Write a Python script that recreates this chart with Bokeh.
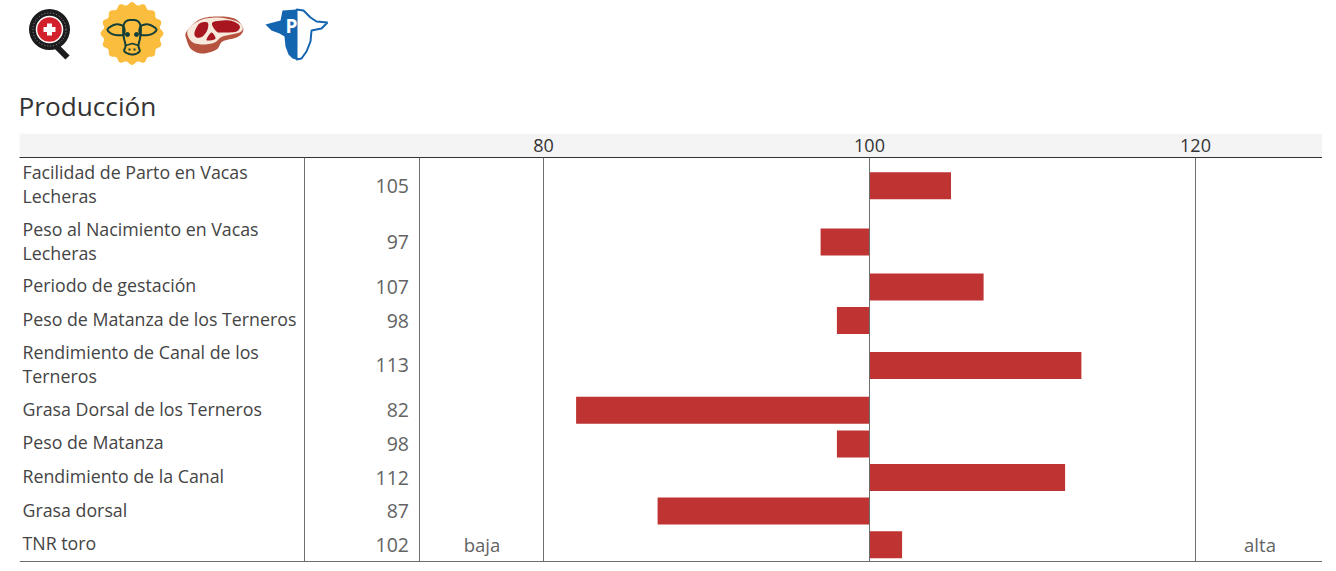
from bokeh.plotting import figure
from bokeh.layouts import column
from bokeh.embed import file_html
from bokeh.resources import INLINE
from bokeh.models import Range1d, LinearAxis, FixedTicker, Span, ColumnDataSource
from bokeh.core.properties import value
import numpy as np

# ---------- data ----------
labels = [
    "Facilidad de Parto en Vacas\nLecheras",
    "Peso al Nacimiento en Vacas\nLecheras",
    "Periodo de gestación",
    "Peso de Matanza de los Terneros",
    "Rendimiento de Canal de los\nTerneros",
    "Grasa Dorsal de los Terneros",
    "Peso de Matanza",
    "Rendimiento de la Canal",
    "Grasa dorsal",
    "TNR toro",
]
values = [105, 97, 107, 98, 113, 82, 98, 112, 87, 102]
axis_ticks = [80, 100, 120]
title_text = "Producción"
low_text, high_text = "baja", "alta"

# ---------- layout constants ----------
FONT = "Open Sans"
BAR = "#bf3333"
TXT = "#444444"
NUM = "#636363"
RULE = "#6e6e6e"
ORIGIN = 1
W, FRAME_H = 1303, 405
ROW1, ROW2 = 33.6, 56.2
PX_PER_UNIT = 16.3
X100 = 850  # px of value 100 inside the chart frame

heights = [ROW2 if "\n" in s else ROW1 for s in labels]
edges = np.concatenate([[0], np.cumsum(heights)])
centers = (edges[:-1] + edges[1:]) / 2 + 0.2


def smooth(points, n=8):
    """Closed Catmull-Rom curve through icon outline points."""
    pts = np.array(points, dtype=float)
    out = []
    m = len(pts)
    for i in range(m):
        p0, p1, p2, p3 = pts[i - 1], pts[i], pts[(i + 1) % m], pts[(i + 2) % m]
        for s in np.linspace(0, 1, n, endpoint=False):
            out.append(0.5 * (2 * p1 + (p2 - p0) * s + (2 * p0 - 5 * p1 + 4 * p2 - p3) * s ** 2
                              + (3 * p1 - p0 - 3 * p2 + p3) * s ** 3))
    out = np.array(out)
    return out[:, 0], out[:, 1]


# ---------- header (icons and title) ----------
top = figure(width=1330, height=134 - ORIGIN, x_range=Range1d(ORIGIN, 1330 + ORIGIN),
             y_range=Range1d(134, ORIGIN),
             output_backend="svg", toolbar_location=None, min_border=0,
             outline_line_color=None)
top.axis.visible = False
top.grid.visible = False

# Swiss Q badge
top.line([56, 68], [46, 58], line_width=6, color="#1c1c1e")
top.scatter([50], [30], size=41, color="#1c1c1e", line_color=None)
top.scatter([50], [30], size=33, fill_color=None, line_color="#9a9a9a", line_width=1, line_dash="1 2")
top.scatter([50], [30], size=26, color="#d2202c", line_color="#ffffff", line_width=1.5)
top.quad(left=[47.5, 44], right=[52.5, 56], top=[24, 27.5], bottom=[36, 32.5], color="#ffffff", line_color=None)

# golden cow badge
t = np.linspace(0, 2 * np.pi, 217)
r = 30 + 1.5 * np.cos(16 * t)
top.patch(132.5 + r * np.cos(t), 34 + r * np.sin(t), color="#fbbd3d", line_color=None)
cow = "#123f3a"
for outline in (
    [(124, 26), (128, 21), (137, 21), (141, 26), (141, 36), (139, 46), (140, 52), (133, 55), (125, 52), (126, 46), (124, 36)],
    [(124, 27), (116, 25), (108, 30), (114, 35), (124, 35)],
    [(141, 27), (149, 25), (157, 30), (151, 35), (141, 35)],
):
    xs, ys = smooth(outline)
    top.patch(xs, ys, fill_color=None, line_color=cow, line_width=2)
top.multi_line([[126, 133, 139], [129, 131], [136, 134]], [[46, 44, 46], [50, 50], [50, 50]],
               line_color=cow, line_width=1.8)
top.scatter([128, 137], [35, 35], size=4, color=cow)

# steak
xs, ys = smooth([(187, 32), (200, 20), (217, 17), (235, 19), (243, 27), (243, 33), (237, 38),
                 (223, 42), (217, 50), (203, 54), (192, 50), (187, 40)])
top.patch(xs, ys, color="#b5533f", line_color=None)
xs, ys = smooth([(188, 31), (200, 21), (217, 18), (235, 21), (243, 27), (240, 33), (223, 37),
                 (215, 43), (203, 45), (192, 42)])
top.patch(xs, ys, color="#f8e9dd", line_color=None)
for pts in ([(195, 33), (200, 24), (208, 23), (208, 30), (203, 37), (197, 38)],
            [(213, 23), (230, 21), (240, 26), (237, 32), (223, 33), (217, 32)],
            [(207, 40), (212, 33), (216, 39), (210, 41)]):
    xs, ys = smooth(pts)
    top.patch(xs, ys, color="#a8161f", line_color=None)

# blue cow with P
BLUE = "#1465b0"
top.patch([297, 283, 281, 266, 272, 280, 285, 286, 289, 293, 297],
          [10, 11, 21, 25, 31, 34, 37, 47, 55, 59, 60],
          color=BLUE, line_color=None)
top.patch([297, 304, 311, 317, 328, 322, 312, 311, 307, 302, 297],
          [10, 11, 18, 22, 23, 29, 31, 42, 52, 59, 60],
          color="#ffffff", line_color=BLUE, line_width=2)
top.text([286], [26], text=["P"], text_font=value(FONT), text_font_size="19px", text_font_style="bold",
         text_color="#ffffff", text_baseline="middle")

top.text([19], [106.5], text=[title_text], text_font=value(FONT), text_font_size="26.2px",
         text_color="#333333", text_baseline="middle")

# ---------- chart ----------
x_range = Range1d(100 - X100 / PX_PER_UNIT, 100 + (W - X100) / PX_PER_UNIT)
p = figure(frame_width=W, frame_height=FRAME_H, x_range=x_range, y_range=Range1d(FRAME_H, 0),
           output_backend="svg", toolbar_location=None, min_border=0, min_border_top=24,
           outline_line_color=None, border_fill_color="#f4f4f4",
           x_axis_location=None, y_axis_location=None, margin=(0, 0, 0, 19))
p.extra_x_ranges["px"] = Range1d(0, W)

axis = LinearAxis(ticker=FixedTicker(ticks=axis_ticks), major_tick_line_color=None,
                  minor_tick_line_color=None, axis_line_color="#333333", axis_line_width=1,
                  major_label_text_font=FONT, major_label_text_font_size="18px",
                  major_label_text_color="#333333", major_label_standoff=0)
p.add_layout(axis, "above")

p.grid.visible = False
for t_val in axis_ticks:
    p.add_layout(Span(location=t_val, dimension="height", line_color=RULE, line_width=1))
for sep in (285, 400):
    p.add_layout(Span(location=sep, dimension="height", line_color=RULE, line_width=1, x_range_name="px"))
p.add_layout(Span(location=404, dimension="width", line_color=RULE, line_width=1))

source = ColumnDataSource(dict(
    y=centers, value=values, base=[100] * len(values), label=labels,
    num=[str(v) for v in values],
    lx=[3] * len(values), nx=[389.5] * len(values)))
p.hbar(y="y", left="base", right="value", height=27, color=BAR, line_color=None, source=source)
p.text(x="lx", y="y", text="label", x_range_name="px", source=source, text_font=value(FONT),
       text_font_size="17.8px", text_color=TXT, text_baseline="middle", text_line_height=1.0,
       y_offset=-1.5)
p.text(x="nx", y="y", text="num", x_range_name="px", source=source, text_font=value(FONT),
       text_font_size="19.5px", text_color=NUM, text_align="right", text_baseline="middle")
p.text(x=[462.5, 1240.5], y=[centers[-1], centers[-1]], text=[low_text, high_text], x_range_name="px",
       text_font=value(FONT), text_font_size="18.5px", text_color=NUM, text_align="center",
       text_baseline="middle")

page = column(top, p, spacing=0)
open("out.html", "w").write(file_html(page, INLINE))
